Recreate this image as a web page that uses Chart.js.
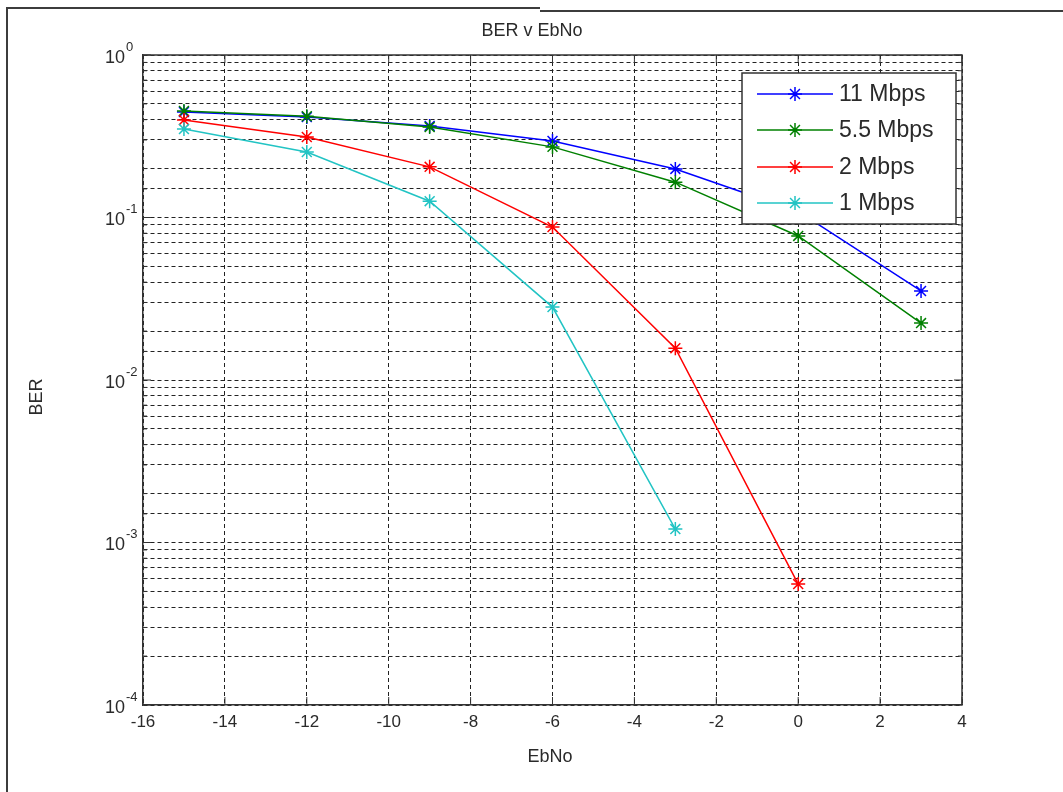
<!DOCTYPE html>
<html>
<head>
<meta charset="utf-8">
<title>BER v EbNo</title>
<script src="https://cdn.jsdelivr.net/npm/chart.js@4.4.1/dist/chart.umd.min.js"></script>
<style>
  html, body { margin: 0; padding: 0; background: #fff; }
  #wrap { position: relative; width: 1063px; height: 792px; overflow: hidden; }
  #chart { position: absolute; left: 0; top: 0; }
  /* figure frame edges, like the cropped screenshot */
  .edge { position: absolute; background: #3c3c3c; }
</style>
</head>
<body>
<div id="wrap">
  <canvas id="chart" width="1063" height="792"></canvas>
  <div class="edge" style="left:6px; top:7px; width:534px; height:2px"></div>
  <div class="edge" style="left:540px; top:10px; width:523px; height:2px"></div>
  <div class="edge" style="left:6px; top:7px; width:2px; height:785px"></div>
</div>
<script>
// ── Data ────────────────────────────────────────────────────
const ebno      = [-15, -12, -9, -6, -3, 0, 3];
const ber11     = [0.446, 0.415, 0.366, 0.296, 0.199, 0.109, 0.0353];
const ber55     = [0.452, 0.420, 0.360, 0.272, 0.165, 0.077, 0.0224];
const ber2      = [0.398, 0.313, 0.205, 0.0874, 0.0157, 0.000555];
const ber1      = [0.350, 0.253, 0.126, 0.0281, 0.00121];

const seriesNames  = ["11 Mbps", "5.5 Mbps", "2 Mbps", "1 Mbps"];
const seriesColors = ["#0000ff", "#008000", "#ff0000", "#22c4c4"];

const xTicks     = [-16, -14, -12, -10, -8, -6, -4, -2, 0, 2, 4];
const yExponents = [0, -1, -2, -3, -4];

const FONT = '"Liberation Sans", Arial, Helvetica, sans-serif';
const AXIS = "#333333";
const GRID = "#222222";

function pts(ys) {
  return ys.map((v, i) => ({ x: ebno[i], y: v }));
}

// ── Overlay: tick labels, titles, inner ticks, legend ───────
const overlay = {
  id: "overlay",
  afterDraw(chart) {
    const { ctx, chartArea: a, scales: { x, y } } = chart;
    ctx.save();

    // top + right box edges
    ctx.strokeStyle = AXIS;
    ctx.lineWidth = 1.5;
    ctx.beginPath();
    ctx.moveTo(a.left, a.top);
    ctx.lineTo(a.right, a.top);
    ctx.lineTo(a.right, a.bottom);
    ctx.stroke();

    // inner tick marks
    ctx.lineWidth = 1;
    ctx.beginPath();
    xTicks.forEach(v => {
      const px = x.getPixelForValue(v);
      ctx.moveTo(px, a.bottom); ctx.lineTo(px, a.bottom - 8);
      ctx.moveTo(px, a.top);    ctx.lineTo(px, a.top + 8);
    });
    y.ticks.forEach(t => {
      const py = y.getPixelForValue(t.value);
      const major = Math.abs(Math.log10(t.value) - Math.round(Math.log10(t.value))) < 1e-9;
      const len = major ? 8 : 4;
      ctx.moveTo(a.left, py);  ctx.lineTo(a.left + len, py);
      ctx.moveTo(a.right, py); ctx.lineTo(a.right - len, py);
    });
    ctx.stroke();

    ctx.fillStyle = "#2a2a2a";

    // x tick labels
    ctx.font = `17px ${FONT}`;
    ctx.textAlign = "center";
    ctx.textBaseline = "middle";
    xTicks.forEach(v => ctx.fillText(String(v), x.getPixelForValue(v), 722));

    // y tick labels: 10 with raised exponent
    yExponents.forEach(e => {
      const py = y.getPixelForValue(Math.pow(10, e));
      ctx.font = `18px ${FONT}`;
      ctx.textAlign = "right";
      ctx.fillText("10", 125, py + 3);
      ctx.font = `13px ${FONT}`;
      ctx.textAlign = "left";
      ctx.fillText(String(e), 126, py - 8);
    });

    // titles
    ctx.font = `18px ${FONT}`;
    ctx.textAlign = "center";
    ctx.fillText("BER v EbNo", 532, 31);
    ctx.fillText("EbNo", 550, 757);
    ctx.save();
    ctx.translate(37, 397);
    ctx.rotate(-Math.PI / 2);
    ctx.fillText("BER", 0, 0);
    ctx.restore();

    // legend box
    const lx = 742, ly = 73, lw = 214, lh = 151;
    ctx.fillStyle = "#fff";
    ctx.fillRect(lx, ly, lw, lh);
    ctx.strokeStyle = AXIS;
    ctx.lineWidth = 1.5;
    ctx.strokeRect(lx, ly, lw, lh);

    const rows = [94, 130, 167, 203];
    seriesNames.forEach((name, i) => {
      const ry = rows[i];
      ctx.strokeStyle = seriesColors[i];
      ctx.lineWidth = 1.5;
      ctx.beginPath();
      ctx.moveTo(757, ry); ctx.lineTo(833, ry);
      ctx.stroke();
      Chart.helpers.drawPoint(ctx, { pointStyle: "star", radius: 7, rotation: 0, borderWidth: 1.5 }, 795, ry);
      ctx.fillStyle = "#2a2a2a";
      ctx.font = `23px ${FONT}`;
      ctx.textAlign = "left";
      ctx.textBaseline = "middle";
      ctx.fillText(name, 839, ry + 1);
    });

    ctx.restore();
  }
};

// ── Chart ───────────────────────────────────────────────────
const allSeries = [ber11, ber55, ber2, ber1];

new Chart(document.getElementById("chart"), {
  type: "line",
  data: {
    datasets: allSeries.map((s, i) => ({
      label: seriesNames[i],
      data: pts(s),
      borderColor: seriesColors[i],
      backgroundColor: seriesColors[i],
      borderWidth: 1.5,
      pointStyle: "star",
      pointRadius: 7,
      pointBorderWidth: 1.5,
      pointBorderColor: seriesColors[i],
      tension: 0,
      fill: false,
      order: allSeries.length - i,   // later series on top, like MATLAB
    })),
  },
  options: {
    responsive: false,
    animation: false,
    events: [],
    layout: { padding: { left: 143, right: 101, top: 55, bottom: 87 } },
    plugins: { legend: { display: false }, tooltip: { enabled: false } },
    scales: {
      x: {
        type: "linear",
        min: -16,
        max: 4,
        ticks: { stepSize: 2, display: false },
        grid: { color: GRID, lineWidth: 1, drawTicks: false },
        border: { display: true, color: AXIS, width: 1.5, dash: [4, 3] },
        afterFit: s => { s.height = 0; },
      },
      y: {
        type: "logarithmic",
        min: 1e-4,
        max: 1,
        ticks: { display: false },
        grid: { color: GRID, lineWidth: 1, drawTicks: false },
        border: { display: true, color: AXIS, width: 1.5, dash: [4, 3] },
        afterFit: s => { s.width = 0; },
      },
    },
  },
  plugins: [overlay],
});
</script>
</body>
</html>
